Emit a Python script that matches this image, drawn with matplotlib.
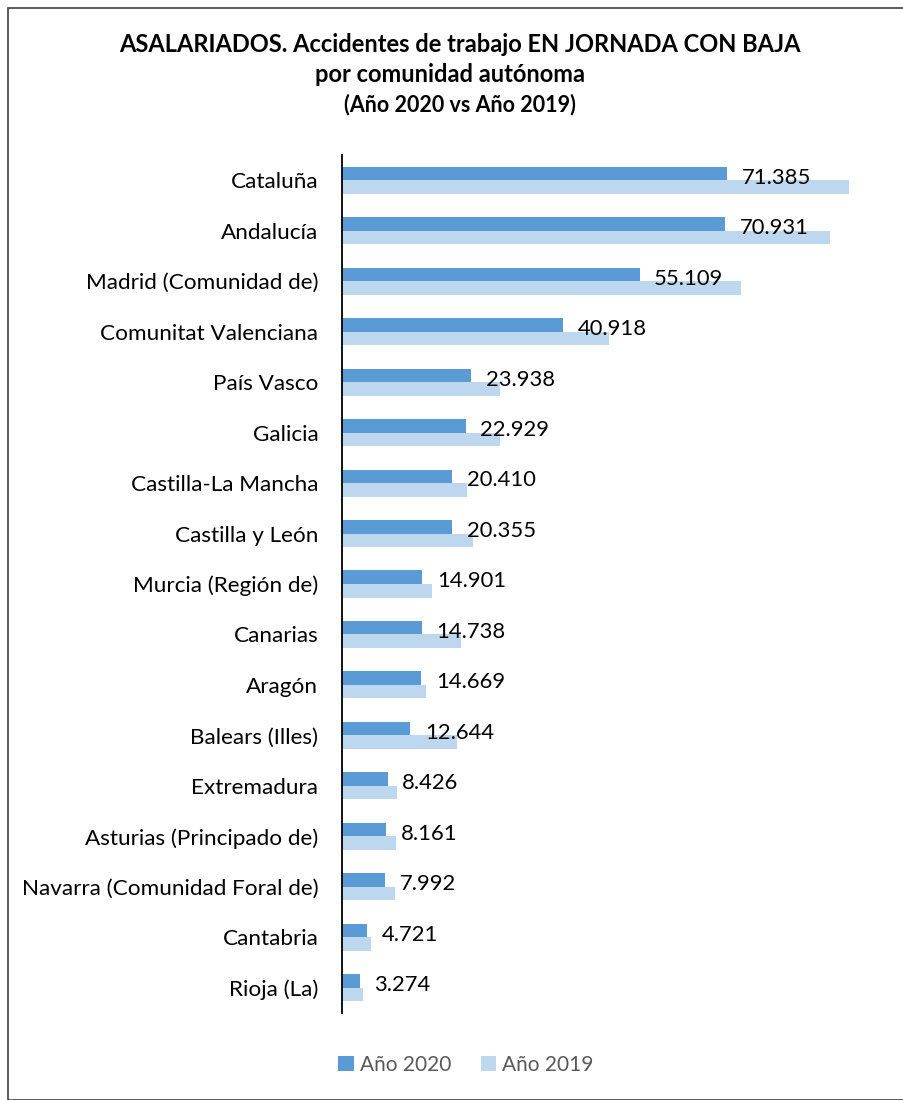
import matplotlib
matplotlib.use("Agg")
import matplotlib.pyplot as plt
from matplotlib.patches import Rectangle
import numpy as np

regions = ["Cataluña", "Andalucía", "Madrid (Comunidad de)", "Comunitat Valenciana",
           "País Vasco", "Galicia", "Castilla-La Mancha", "Castilla y León",
           "Murcia (Región de)", "Canarias", "Aragón", "Balears (Illes)",
           "Extremadura", "Asturias (Principado de)", "Navarra (Comunidad Foral de)",
           "Cantabria", "Rioja (La)"]
values_2020 = [71385, 70931, 55109, 40918, 23938, 22929, 20410, 20355,
               14901, 14738, 14669, 12644, 8426, 8161, 7992, 4721, 3274]
values_2019 = [93980, 90440, 73980, 49410, 29300, 29230, 23060, 24300,
               16630, 22080, 15470, 21260, 10160, 9910, 9850, 5410, 3950]
labels_2020 = ["71.385", "70.931", "55.109", "40.918", "23.938", "22.929", "20.410",
               "20.355", "14.901", "14.738", "14.669", "12.644", "8.426", "8.161",
               "7.992", "4.721", "3.274"]
series_names = ["Año 2020", "Año 2019"]

c2020 = "#5B9BD5"
c2019 = "#BDD7EE"
font = "Lato"

W, H = 904, 1100
fig = plt.figure(figsize=(W / 100, H / 100), dpi=100)

# outer border
fig.patches.append(Rectangle((8 / W, 0), (W - 8) / W - 0.0005, (H - 8) / H,
                             transform=fig.transFigure, fill=False,
                             edgecolor="#404040", linewidth=1.2))

ax_left, ax_right = 342, 882
ax_top, ax_bottom = 155, 1013
ax = fig.add_axes([ax_left / W, 1 - ax_bottom / H, (ax_right - ax_left) / W,
                   (ax_bottom - ax_top) / H])

y = np.arange(len(regions))
bh = 0.268
ax.barh(y - bh / 2, values_2020, height=bh, color=c2020, label=series_names[0])
ax.barh(y + bh / 2, values_2019, height=bh, color=c2019, label=series_names[1])

for yi, v, lab in zip(y, values_2020, labels_2020):
    ax.annotate(lab, (v, yi - bh / 2), xytext=(10.5, -3), textcoords="offset points",
                ha="left", va="center", fontsize=15.8, family=font, color="black")

ax.set_xlim(0, 100000)
ax.set_ylim(len(regions) - 0.5, -0.5)
ax.set_yticks(y)
ax.set_yticklabels(regions, fontsize=16.2, family=font, color="black")
ax.tick_params(axis="y", length=0, pad=17)
ax.set_xticks([])
for s in ["top", "right", "bottom"]:
    ax.spines[s].set_visible(False)
ax.spines["left"].set_color("black")
ax.spines["left"].set_linewidth(1.3)

fig.text(460 / W, 1 - 45 / H, "ASALARIADOS. Accidentes de trabajo EN JORNADA CON BAJA",
         ha="center", va="center", fontsize=17, fontweight="bold", family=font)
fig.text(450 / W, 1 - 75 / H, "por comunidad autónoma",
         ha="center", va="center", fontsize=17, fontweight="bold", family=font)
fig.text(460 / W, 1 - 105 / H, "(Año 2020 vs Año 2019)",
         ha="center", va="center", fontsize=15.5, fontweight="bold", family=font)

leg = fig.legend(loc="center", bbox_to_anchor=(466 / W, 1 - 1065 / H), ncol=2,
                 frameon=False, prop={"family": font, "size": 15},
                 handlelength=0.75, handleheight=0.75, handletextpad=0.3,
                 columnspacing=1.4)
for t in leg.get_texts():
    t.set_color("#595959")

fig.savefig("out.png", dpi=100)
